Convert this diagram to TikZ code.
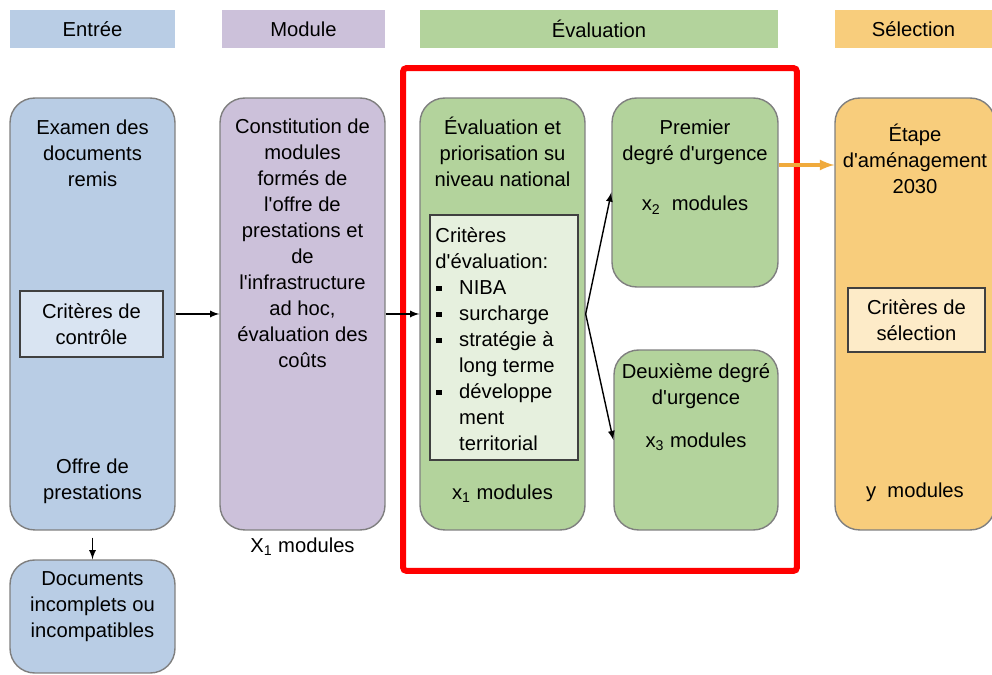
\documentclass[tikz,border=0pt]{standalone}
\usepackage{fontspec}
\setmainfont{Liberation Sans}
\usetikzlibrary{arrows,positioning}

\definecolor{inblue}{HTML}{B9CDE5}
\definecolor{inlight}{HTML}{D9E4F2}
\definecolor{modpurple}{HTML}{CCC1DA}
\definecolor{evgreen}{HTML}{B3D39C}
\definecolor{evlight}{HTML}{E6F0DE}
\definecolor{selorange}{HTML}{F8CD7C}
\definecolor{sellight}{HTML}{FDEBC8}
\definecolor{selarrow}{HTML}{F0AA3C}
\definecolor{boxgray}{HTML}{7F7F7F}
\definecolor{critgray}{HTML}{404040}

\newcommand{\bul}{\makebox[13.5pt][l]{\hspace{0.5pt}\rule[1.8pt]{3pt}{3pt}}}
\newcommand{\ap}{\textquotesingle}

\begin{document}
\begin{tikzpicture}[
    x=0.02cm, y=-0.02cm,
    font=\fontsize{11.5}{14.8}\selectfont,
    head/.style={rectangle, minimum height=0.76cm, inner sep=0pt},
    block/.style={draw=boxgray, rectangle, rounded corners=14pt, line width=0.8pt, minimum width=3.3cm, minimum height=8.64cm},
    crit/.style={draw=critgray, rectangle, line width=1pt, align=center, inner sep=0pt},
    txt/.style={align=center, inner sep=0pt},
    arrow/.style={->, >=latex, thick},
    sel arrow/.style={->, >=latex, line width=1.8pt, draw=selarrow},
]
    \useasboundingbox (0,0) rectangle (992,675);

    % Headers
    \node [head, fill=inblue, minimum width=3.3cm] (h_in) at (92.5,29) {Entrée};
    \node [head, fill=modpurple, minimum width=3.26cm] (h_mod) at (303.5,29) {Module};
    \node [head, fill=evgreen, minimum width=7.16cm] (h_ev) at (599,29) {Évaluation};
    \node [head, fill=selorange, minimum width=3.14cm] (h_sel) at (913.5,29) {Sélection};

    % Entree
    \node [block, fill=inblue] (in_box) at (92.5,314) {};
    \node [txt, below=0.44cm of in_box.north] (in_txt) {Examen des\\documents\\remis};
    \node [crit, fill=inlight, minimum width=2.86cm, minimum height=1.32cm] (in_crit) at (91.5,324) {Critères de\\contrôle};
    \node [txt, above=0.54cm of in_box.south] (in_offre) {Offre de\\prestations};
    \node [block, fill=inblue, minimum height=2.26cm] (docs) at (92.5,616.5) {};
    \node [txt, below=0.24cm of docs.north] (docs_txt) {Documents\\incomplets ou\\incompatibles};

    % Module
    \node [block, fill=modpurple] (mod_box) at (302.5,314) {};
    \node [txt, below=0.42cm of mod_box.north] (mod_txt) {Constitution de\\modules\\formés de\\l\ap offre de\\prestations et\\de\\l\ap infrastructure\\ad hoc,\\évaluation des\\coûts};
    \node [txt, below=0.14cm of mod_box.south] (mod_n) {X\textsubscript{1} modules};

    % Evaluation
    \node [draw=red, line width=3.4pt, rounded corners=2pt, minimum width=7.88cm, minimum height=10.06cm] (ev_frame) at (600,319.5) {};
    \node [block, fill=evgreen] (ev_box) at (502.5,314) {};
    \node [txt, below=0.38cm of ev_box.north] (ev_txt) {Évaluation et\\priorisation su\\niveau national};
    \node [crit, fill=evlight, minimum width=2.96cm, minimum height=4.9cm] (ev_crit) at (504,337.5) {};
    \node [align=left, inner sep=0pt, below right=0.26cm and 0.12cm of ev_crit.north west] (ev_crit_txt) {Critères\\d\ap évaluation:\\\bul NIBA\\\bul surcharge\\\bul stratégie à\\\hspace*{13.5pt}long terme\\\bul développe\\\hspace*{13.5pt}ment\\\hspace*{13.5pt}territorial};
    \node [txt, above=0.55cm of ev_box.south] (ev_n) {x\textsubscript{1} modules};

    \node [block, fill=evgreen, minimum width=3.32cm, minimum height=3.78cm] (urg1) at (695,192.5) {};
    \node [txt, below=0.44cm of urg1.north] (urg1_txt) {Premier\\degré d\ap urgence\\[14pt]x\textsubscript{2}\ \ modules};
    \node [block, fill=evgreen, minimum width=3.28cm, minimum height=3.6cm] (urg2) at (696,440) {};
    \node [txt, below=0.28cm of urg2.north] (urg2_txt) {Deuxième degré\\d\ap urgence\\[9.5pt]x\textsubscript{3} modules};

    % Selection
    \node [block, fill=selorange, minimum width=3.2cm] (sel_box) at (915,314) {};
    \node [txt, below=0.52cm of sel_box.north] (sel_txt) {Étape\\d\ap aménagement\\2030};
    \node [crit, fill=sellight, minimum width=2.74cm, minimum height=1.28cm] (sel_crit) at (916.5,320) {Critères de\\sélection};
    \node [txt, above=0.58cm of sel_box.south] (sel_n) {y\ \ modules};

    % Arrows
    \draw [arrow] (in_box) -- (mod_box);
    \draw [arrow] (mod_box) -- (ev_box);
    \draw [arrow] (ev_box.east) -- (urg1.west);
    \draw [arrow] (ev_box.east) -- (urg2.west);
    \draw [arrow, shorten <=4pt] (in_box) -- (docs);
    \draw [sel arrow] ([yshift=0.55cm]urg1.east) -- ([yshift=0.55cm]urg1.east -| sel_box.west);

\end{tikzpicture}
\end{document}
